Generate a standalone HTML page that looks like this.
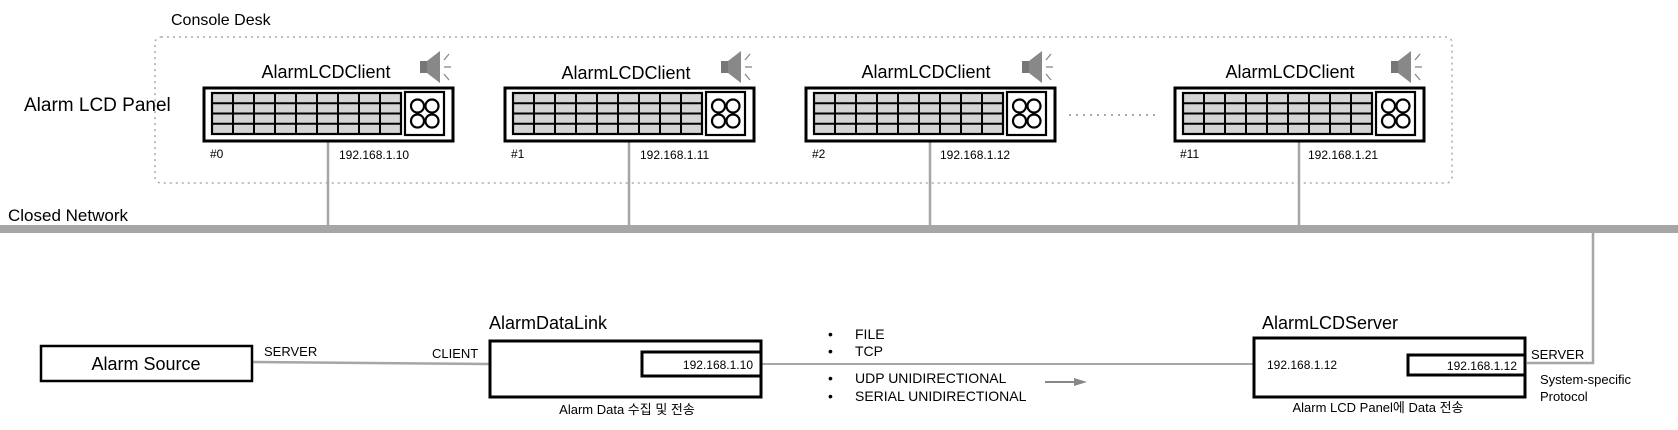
<!DOCTYPE html>
<html><head><meta charset="utf-8"><style>
html,body{margin:0;padding:0;background:#fff;}
svg{display:block;font-family:"Liberation Sans","Noto Sans CJK KR",sans-serif;}
</style></head><body>
<svg width="1678" height="430" viewBox="0 0 1678 430" xmlns="http://www.w3.org/2000/svg">
<defs>
<g id="client">
  <rect x="0" y="0" width="249" height="53" fill="#fff" stroke="#000" stroke-width="3"/>
  <rect x="8" y="5" width="189" height="41" fill="#d4d4d4" stroke="#000" stroke-width="2.2"/>
  <g stroke="#000" stroke-width="2">
    <line x1="29" y1="5" x2="29" y2="46"/><line x1="50" y1="5" x2="50" y2="46"/>
    <line x1="71" y1="5" x2="71" y2="46"/><line x1="92" y1="5" x2="92" y2="46"/>
    <line x1="113" y1="5" x2="113" y2="46"/><line x1="134" y1="5" x2="134" y2="46"/>
    <line x1="155" y1="5" x2="155" y2="46"/><line x1="176" y1="5" x2="176" y2="46"/>
    <line x1="8" y1="15.25" x2="197" y2="15.25"/><line x1="8" y1="25.5" x2="197" y2="25.5"/>
    <line x1="8" y1="35.75" x2="197" y2="35.75"/>
  </g>
  <rect x="201" y="4" width="39" height="43" fill="#fff" stroke="#000" stroke-width="2.2"/>
  <g fill="none" stroke="#000" stroke-width="2.2">
    <circle cx="213.5" cy="18" r="6.5"/><circle cx="228" cy="18" r="6.5"/>
    <circle cx="213.5" cy="33" r="6.5"/><circle cx="228" cy="33" r="6.5"/>
  </g>
  <g transform="translate(216,-35)">
    <rect x="0" y="8" width="8" height="12" fill="#777"/>
    <polygon points="7,8 20,-2 20,30 7,20" fill="#888"/>
    <g stroke="#888" stroke-width="1.3"><line x1="24" y1="7" x2="29" y2="1"/><line x1="24" y1="14" x2="31" y2="14"/><line x1="24" y1="21" x2="29" y2="27"/></g>
  </g>
</g>
</defs>

<text x="171" y="25" font-size="16" fill="#000">Console Desk</text>
<rect x="155" y="37" width="1297" height="146" rx="6" fill="none" stroke="#aaa" stroke-width="1.5" stroke-dasharray="2,4"/>
<text x="24" y="111" font-size="19">Alarm LCD Panel</text>

<g stroke="#a6a6a6" stroke-width="2.5">
  <line x1="328" y1="141" x2="328" y2="226"/>
  <line x1="629" y1="141" x2="629" y2="226"/>
  <line x1="930" y1="141" x2="930" y2="226"/>
  <line x1="1299" y1="141" x2="1299" y2="226"/>
</g>

<g transform="translate(204,88)"><use href="#client"/></g>
<g transform="translate(505,88)"><use href="#client"/></g>
<g transform="translate(806,88)"><use href="#client"/></g>
<g transform="translate(1175,88)"><use href="#client"/></g>

<g font-size="18" text-anchor="middle">
  <text x="326" y="78">AlarmLCDClient</text>
  <text x="626" y="79">AlarmLCDClient</text>
  <text x="926" y="78">AlarmLCDClient</text>
  <text x="1290" y="78">AlarmLCDClient</text>
</g>
<g font-size="12">
  <text x="210" y="158">#0</text><text x="339" y="159">192.168.1.10</text>
  <text x="511" y="158">#1</text><text x="640" y="159">192.168.1.11</text>
  <text x="812" y="158">#2</text><text x="940" y="159">192.168.1.12</text>
  <text x="1180" y="158">#11</text><text x="1308" y="159">192.168.1.21</text>
</g>
<line x1="1069" y1="115" x2="1158" y2="115" stroke="#aaa" stroke-width="2" stroke-dasharray="2,5"/>

<text x="8" y="221" font-size="17">Closed Network</text>
<rect x="0" y="225" width="1678" height="8" fill="#a6a6a6"/>

<polyline points="1593,233 1593,363 1527,363" fill="none" stroke="#a6a6a6" stroke-width="2.5"/>
<line x1="252" y1="362" x2="490" y2="364" stroke="#a6a6a6" stroke-width="2.5"/>
<line x1="761" y1="364" x2="1254" y2="364" stroke="#a6a6a6" stroke-width="2"/>
<line x1="1045" y1="382" x2="1076" y2="382" stroke="#888" stroke-width="2"/>
<polygon points="1074,378 1087,382 1074,386" fill="#888"/>

<rect x="41" y="346" width="211" height="35" fill="#fff" stroke="#000" stroke-width="2.5"/>
<text x="146" y="370" font-size="18" text-anchor="middle">Alarm Source</text>
<text x="264" y="356" font-size="13">SERVER</text>
<text x="432" y="358" font-size="13">CLIENT</text>

<text x="489" y="329" font-size="18">AlarmDataLink</text>
<rect x="490" y="341" width="271" height="56" fill="#fff" stroke="#000" stroke-width="3"/>
<rect x="642" y="352" width="119" height="24" fill="#fff" stroke="#000" stroke-width="3"/>
<text x="753" y="369" font-size="12" text-anchor="end">192.168.1.10</text>
<text x="627" y="414" font-size="13" text-anchor="middle">Alarm Data 수집 및 전송</text>

<g font-size="14">
  <text x="828" y="339">•</text><text x="855" y="339">FILE</text>
  <text x="828" y="356">•</text><text x="855" y="356">TCP</text>
  <text x="828" y="383">•</text><text x="855" y="383">UDP UNIDIRECTIONAL</text>
  <text x="828" y="401">•</text><text x="855" y="401">SERIAL UNIDIRECTIONAL</text>
</g>

<text x="1262" y="329" font-size="18">AlarmLCDServer</text>
<rect x="1254" y="338" width="271" height="59" fill="#fff" stroke="#000" stroke-width="3"/>
<rect x="1408" y="355" width="117" height="20" fill="#fff" stroke="#000" stroke-width="3"/>
<text x="1267" y="369" font-size="12">192.168.1.12</text>
<text x="1517" y="370" font-size="12" text-anchor="end">192.168.1.12</text>
<text x="1531" y="359" font-size="13">SERVER</text>
<text x="1540" y="384" font-size="13">System-specific</text>
<text x="1540" y="401" font-size="13">Protocol</text>
<text x="1378" y="412" font-size="13" text-anchor="middle">Alarm LCD Panel에 Data 전송</text>
</svg>
</body></html>
